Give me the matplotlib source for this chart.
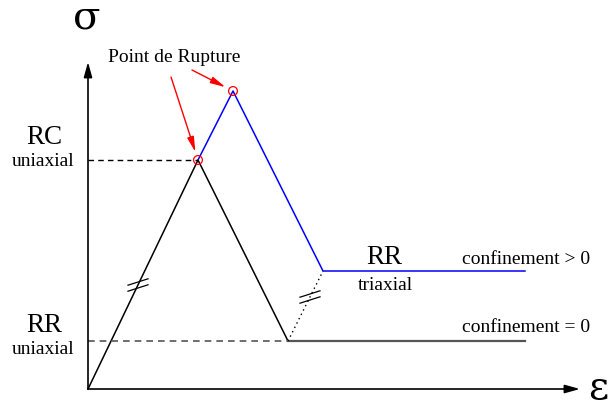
import numpy as np
import matplotlib.pyplot as plt

# schematic stress-strain paths (strain, stress) in diagram units
eps_uni = [0, 110, 200, 437]
sig_uni = [0, 229, 48, 48]
eps_tri = [110, 145, 235, 437]
sig_tri = [229, 298, 118, 118]

rc_uni = 229       # compressive strength, uniaxial
rr_uni = 48        # residual strength, uniaxial
rr_tri = 118       # residual strength, triaxial
eps_max, sig_max = 492, 327

plt.rcParams['font.family'] = ['Liberation Serif', 'DejaVu Serif']

fig = plt.figure(figsize=(6.13, 4.09), dpi=100)
ax = fig.add_axes([0, 0, 1, 1])
ax.set_xlim(-88, 525)
ax.set_ylim(-20, 389)
ax.axis('off')

# axes with arrow heads
arrow = dict(arrowstyle='-|>,head_length=0.9,head_width=0.25', color='black', lw=1.2,
             shrinkA=0, shrinkB=0)
ax.annotate('', xy=(eps_max, 0), xytext=(0, 0), arrowprops=arrow)
ax.annotate('', xy=(0, sig_max), xytext=(0, 0), arrowprops=arrow)
ax.text(-1, 371, 'σ', fontsize=29, ha='center', va='center', family='DejaVu Serif')
ax.text(510, 1, 'ε', fontsize=28, ha='center', va='center', family='DejaVu Serif')

# loading paths
ax.plot(eps_uni[:3], sig_uni[:3], color='black', lw=1.1)
ax.plot(eps_uni[2:], sig_uni[2:], color='#555555', lw=1.6)
ax.plot(eps_tri, sig_tri, color='blue', lw=1.1)
ax.plot([eps_uni[2], eps_tri[2]], [sig_uni[2], sig_tri[2]], color='black', lw=1, ls=(0, (1, 2.5)))

# reference levels
ax.plot([0, eps_uni[1]], [rc_uni, rc_uni], color='black', lw=1, ls=(0, (4, 3)))
ax.plot([0, eps_uni[2]], [rr_uni, rr_uni], color='#555555', lw=1.2, ls=(0, (4, 3)))


def break_mark(x, y, ang=0.32, half=10, gap=3):
    # double slash drawn across a segment
    for off in (-gap, gap):
        xs = np.array([x - half, x + half])
        ys = y + off + (xs - x) * ang
        ax.plot(xs, ys, color='black', lw=0.9)


break_mark(50, 104)
break_mark(222, 92)

# failure points
ax.scatter([eps_uni[1], eps_tri[1]], [sig_uni[1], sig_tri[1]], s=40, facecolors='none',
           edgecolors='red', lw=0.9, zorder=5)
red = dict(arrowstyle='-|>,head_length=0.9,head_width=0.2', color='red', lw=1,
           shrinkA=0, shrinkB=6)
ax.annotate('', xy=(eps_uni[1], sig_uni[1]), xytext=(83, 312), arrowprops=red)
ax.annotate('', xy=(eps_tri[1], sig_tri[1]), xytext=(104, 319), arrowprops=red)
ax.text(86, 332, 'Point de Rupture', fontsize=14, ha='center', va='center')

# labels
ax.text(-44, 251, 'RC', fontsize=19.5, ha='center', va='center')
ax.text(-45, 227, 'uniaxial', fontsize=14, ha='center', va='center')
ax.text(-44, 63, 'RR', fontsize=19.5, ha='center', va='center')
ax.text(-45, 40, 'uniaxial', fontsize=14, ha='center', va='center')
ax.text(296, 132, 'RR', fontsize=19.5, ha='center', va='center')
ax.text(297, 103, 'triaxial', fontsize=14, ha='center', va='center')
ax.text(438, 130, 'confinement > 0', fontsize=14, ha='center', va='center')
ax.text(438, 61, 'confinement = 0', fontsize=14, ha='center', va='center')

fig.savefig('out.png', dpi=100)
